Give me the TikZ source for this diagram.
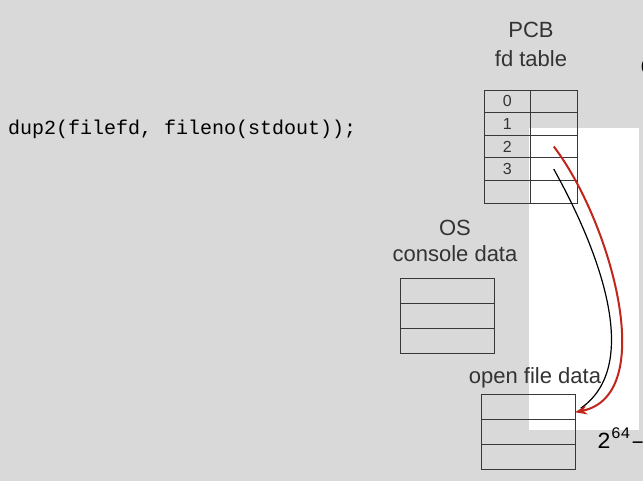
\documentclass[tikz,border=0pt]{standalone}
\usepackage{fontspec}
\setmainfont{Liberation Sans}
\setmonofont{Liberation Mono}
\usepackage{tikz}
\usetikzlibrary{
  calc,
  positioning,
  arrows.meta
}
\definecolor{slidegray}{HTML}{D9D9D9}
\definecolor{linkred}{HTML}{C0261B}
\definecolor{cellline}{HTML}{383838}

\begin{document}
\begin{tikzpicture}[x=1pt,y=-1pt,>=Latex]
  \tikzset{
    cell/.style={
      draw=cellline, line width=0.9pt, minimum width=46.5pt,
      minimum height=22.6pt, inner sep=0pt, outer sep=0pt,
      font=\fontsize{16}{16}\selectfont, text=black!80
    },
    rowbox/.style={
      draw=cellline, line width=0.9pt, minimum width=94pt,
      minimum height=25pt, inner sep=0pt, outer sep=0pt
    },
    heading/.style={
      font=\fontsize{22}{26}\selectfont, inner sep=0pt, text=black!80
    },
    codetext/.style={
      font=\ttfamily\fontsize{20}{24}\selectfont, inner sep=0pt
    },
  }
\fill[slidegray] (0,0) rectangle (643,481);
\useasboundingbox (0,0) rectangle (643,481);
\fill[white] (529,128) rectangle (639,430);

\node[codetext, anchor=base west] (call) at (8,135) {dup2(filefd, fileno(stdout));};

% PCB fd table
\node[heading, anchor=base] (pcb) at (531,38) {PCB};
\node[heading, anchor=base] (fdtitle) at (531,67) {fd table};
\foreach \i in {0,...,3} {
  \node[cell] (fd\i) at (507.25,{101.3+22.6*\i}) {\i};
  \node[cell] (ptr\i) at (553.75,{101.3+22.6*\i}) {};
}
\node[cell] (fd4) at (507.25,191.7) {};
\node[cell] (ptr4) at (553.75,191.7) {};

% OS console data
\node[heading, anchor=base] (os) at (455,236) {OS};
\node[heading, anchor=base] (contitle) at (455,262) {console data};
\foreach \j in {0,1,2}
  \node[rowbox] (con\j) at (447,{290.5+25*\j}) {};

% open file data
\node[heading, anchor=base] (ofdtitle) at (535,383) {open file data};
\foreach \j in {0,1,2}
  \node[rowbox] (ofd\j) at (528,{406.5+25*\j}) {};

\node[codetext, anchor=base west] (top) at (640.5,74) {0};
\node[codetext, anchor=base west, font=\ttfamily\fontsize{23}{26}\selectfont]
  (bottom) at (597,448) {2\textsuperscript{64}–};

\draw[black, line width=1.2pt, shorten >=7pt] (ptr3.center)
  .. controls (585,225) and (650,360) .. (ofd0.-7);
\draw[linkred, line width=2pt, -{Stealth[length=12pt,width=9pt]}] (ptr2.center)
  .. controls (610,220) and (660,395) .. (ofd0.-7);

\end{tikzpicture}
\end{document}
